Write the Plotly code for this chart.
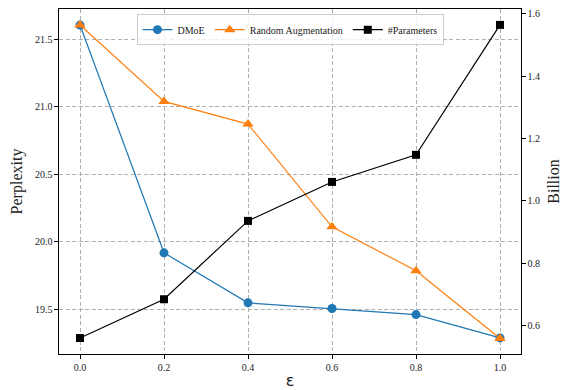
import plotly.graph_objects as go

eps = [0.0, 0.2, 0.4, 0.6, 0.8, 1.0]
dmoe = [21.606, 19.918, 19.547, 19.505, 19.46, 19.287]
random_aug = [21.606, 21.04, 20.872, 20.111, 19.785, 19.283]
params = [0.56, 0.6845, 0.936, 1.061, 1.148, 1.565]

x_ticks = [0.0, 0.2, 0.4, 0.6, 0.8, 1.0]
x_labels = ["0.0", "0.2", "0.4", "0.6", "0.8", "1.0"]
y_ticks = [19.5, 20.0, 20.5, 21.0, 21.5]
y_labels = ["19.5", "20.0", "20.5", "21.0", "21.5"]
y2_ticks = [0.6, 0.8, 1.0, 1.2, 1.4, 1.6]
y2_labels = ["0.6", "0.8", "1.0", "1.2", "1.4", "1.6"]

serif = "Liberation Serif"
grid_dash = "4px,2.5px"

fig = go.Figure()
fig.add_trace(go.Scatter(x=eps, y=dmoe, name="DMoE", mode="lines+markers",
                         line=dict(color="#1f77b4", width=1.2),
                         marker=dict(symbol="circle", size=9, color="#1f77b4")))
fig.add_trace(go.Scatter(x=eps, y=random_aug, name="Random Augmentation", mode="lines+markers",
                         line=dict(color="#ff7f0e", width=1.2),
                         marker=dict(symbol="triangle-up", size=10, color="#ff7f0e")))
fig.add_trace(go.Scatter(x=eps, y=params, name="#Parameters", mode="lines+markers",
                         yaxis="y2",
                         line=dict(color="black", width=1.2),
                         marker=dict(symbol="square", size=8, color="black")))

fig.update_layout(
    width=570, height=390,
    margin=dict(l=59, r=49, t=9, b=36),
    plot_bgcolor="white", paper_bgcolor="white",
    font=dict(family=serif, size=10, color="#222"),
    showlegend=True,
    legend=dict(orientation="h", x=0.5, xanchor="center", y=0.985, yanchor="top",
                bordercolor="#cccccc", borderwidth=1, bgcolor="rgba(255,255,255,0.8)",
                font=dict(family=serif, size=10, color="#222"), itemwidth=30,
                tracegroupgap=0),
    xaxis=dict(range=[-0.05, 1.05], tickvals=x_ticks, ticktext=x_labels,
               showgrid=True, gridcolor="#b0b0b0", griddash=grid_dash, gridwidth=1,
               zeroline=False, showline=True, linecolor="black", linewidth=1.2, mirror=True,
               ticks="outside", ticklen=3.5, tickcolor="black", automargin=False,
               title=dict(text="ε", font=dict(family="DejaVu Sans", size=16, color="#222"), standoff=4)),
    yaxis=dict(range=[19.168, 21.725], tickvals=y_ticks, ticktext=y_labels,
               showgrid=True, gridcolor="#b0b0b0", griddash=grid_dash, gridwidth=1,
               zeroline=False, showline=True, linecolor="black", linewidth=1.2, mirror=True,
               ticks="outside", ticklen=3.5, tickcolor="black", automargin=False,
               title=dict(text="Perplexity", font=dict(family=serif, size=16, color="#222"), standoff=8)),
    yaxis2=dict(range=[0.5088, 1.616], tickvals=y2_ticks, ticktext=y2_labels,
                overlaying="y", side="right", showgrid=False, zeroline=False,
                showline=True, linecolor="black", linewidth=1.2, automargin=False,
                ticks="outside", ticklen=3.5, tickcolor="black",
                title=dict(text="Billion", font=dict(family=serif, size=16, color="#222"), standoff=8)),
)

fig.write_html("out.html")
